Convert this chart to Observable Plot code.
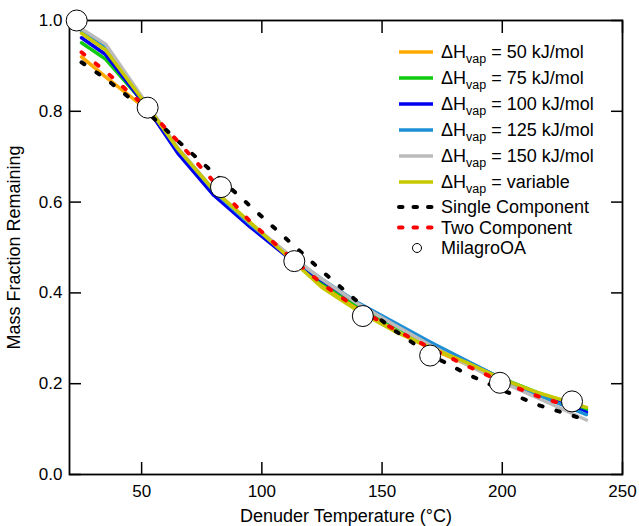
<!DOCTYPE html>
<html><head><meta charset="utf-8">
<script src="https://cdn.jsdelivr.net/npm/d3@7"></script>
<script src="https://cdn.jsdelivr.net/npm/@observablehq/plot@0.6"></script>
<style>body{margin:0;background:#fff}</style>
</head><body><div id="chart"></div>
<script>
const temps = [25, 35, 52, 65, 80, 95, 110, 125, 140, 155, 170, 185, 200, 215, 235];
const dh50  = [0.920, 0.876, 0.805, 0.718, 0.626, 0.555, 0.485, 0.420, 0.365, 0.318, 0.278, 0.243, 0.208, 0.178, 0.146];
const dh75  = [0.951, 0.915, 0.812, 0.714, 0.621, 0.550, 0.484, 0.424, 0.372, 0.327, 0.286, 0.248, 0.211, 0.180, 0.143];
const dh100 = [0.962, 0.925, 0.810, 0.708, 0.615, 0.546, 0.482, 0.427, 0.377, 0.333, 0.290, 0.250, 0.210, 0.177, 0.137];
const dh125 = [0.975, 0.940, 0.815, 0.717, 0.624, 0.552, 0.487, 0.430, 0.378, 0.335, 0.292, 0.251, 0.210, 0.175, 0.132];
const dh150 = [0.982, 0.948, 0.818, 0.720, 0.627, 0.555, 0.490, 0.430, 0.376, 0.330, 0.285, 0.243, 0.203, 0.168, 0.120];
const dhVar = [0.972, 0.935, 0.814, 0.718, 0.626, 0.556, 0.484, 0.412, 0.360, 0.316, 0.280, 0.247, 0.210, 0.180, 0.148];
const single = [0.908, 0.872, 0.800, 0.735, 0.664, 0.592, 0.520, 0.448, 0.380, 0.318, 0.264, 0.222, 0.186, 0.153, 0.120];
const twoComp = [0.930, 0.888, 0.808, 0.734, 0.645, 0.558, 0.487, 0.420, 0.365, 0.320, 0.279, 0.240, 0.204, 0.172, 0.138];
const obsTemp = [23, 52.5, 83, 113.5, 142, 170, 199, 229];
const obsFrac = [1.0, 0.808, 0.633, 0.470, 0.349, 0.262, 0.202, 0.161];
const xTicks = [50, 100, 150, 200, 250];
const yTicks = [0, 0.2, 0.4, 0.6, 0.8, 1.0];
const seriesNames = ["50 kJ/mol", "75 kJ/mol", "100 kJ/mol", "125 kJ/mol", "150 kJ/mol", "variable", "Single Component", "Two Component"];
const seriesColors = ["#FFAA00", "#10CC10", "#0000EE", "#1E8FD5", "#BBBBBB", "#C8C800", "#000000", "#FF0000"];
const seriesValues = [dh50, dh75, dh100, dh125, dh150, dhVar, single, twoComp];
const obsName = "MilagroOA";
const xLabel = "Denuder Temperature (°C)";
const yLabel = "Mass Fraction Remaining";

const series = seriesNames.map((name, i) => ({
  name, color: seriesColors[i], dashed: i >= 6,
  rows: temps.map((t, j) => ({t, v: seriesValues[i][j]}))
}));
const obs = obsTemp.map((t, i) => ({t, v: obsFrac[i]}));

const lineMarks = series.map(s => Plot.line(s.rows, s.dashed
  ? {x: "t", y: "v", stroke: s.color, strokeWidth: 4, strokeDasharray: "3.5,14.5", strokeLinecap: "round"}
  : {x: "t", y: "v", stroke: s.color, strokeWidth: 3.5}));

const plot = Plot.plot({
  width: 639, height: 526,
  marginLeft: 69, marginRight: 17, marginTop: 20, marginBottom: 52,
  x: {domain: [20, 250]},
  y: {domain: [0, 1.0]},
  style: {fontFamily: "'Liberation Sans', Arial, sans-serif", fontSize: "17px"},
  marks: [
    Plot.frame({stroke: "#000000", strokeWidth: 1.8}),
    Plot.axisX({anchor: "bottom", ticks: xTicks, tickSize: -12, strokeWidth: 1.5, stroke: "#000000", tickPadding: 22, tickFormat: d => String(d), label: xLabel, labelAnchor: "center", labelOffset: 47, labelArrow: "none"}),
    Plot.axisX({anchor: "top", ticks: xTicks, tickSize: -12, strokeWidth: 1.5, stroke: "#000000", tickFormat: () => "", label: null}),
    Plot.axisY({anchor: "left", ticks: yTicks, tickSize: -12, strokeWidth: 1.5, stroke: "#000000", tickPadding: 19, tickFormat: d => d.toFixed(1), label: yLabel, labelAnchor: "center", labelOffset: 62, labelArrow: "none"}),
    Plot.axisY({anchor: "right", ticks: yTicks, tickSize: -12, strokeWidth: 1.5, stroke: "#000000", tickFormat: () => "", label: null}),
    ...lineMarks,
    Plot.dot(obs, {x: "t", y: "v", r: 10.5, fill: "white", stroke: "black", strokeWidth: 1})
  ]
});
document.getElementById("chart").appendChild(plot);

const svg = d3.select(plot);
svg.selectAll('[aria-label="x-axis label"], [aria-label="y-axis label"]').attr("font-size", 18);

// legend
const lg = svg.append("g").attr("font-family", "'Liberation Sans', Arial, sans-serif").attr("font-size", 18).attr("text-anchor", "start");
const rowsY = [52, 78, 104, 130, 156, 182, 207, 227.5, 248];
series.forEach((s, i) => {
  const y = rowsY[i];
  lg.append("line").attr("x1", 399).attr("x2", 433).attr("y1", y).attr("y2", y)
    .attr("stroke", s.color).attr("stroke-width", s.dashed ? 4 : 3.5)
    .attr("stroke-dasharray", s.dashed ? "3.5,11" : null)
    .attr("stroke-linecap", s.dashed ? "round" : "butt");
  const t = lg.append("text").attr("x", 441).attr("y", y).attr("dy", "0.36em");
  if (i < 6) {
    t.append("tspan").text("ΔH");
    t.append("tspan").attr("font-size", 12.5).attr("dy", 5).text("vap");
    t.append("tspan").attr("dy", -5).text(" = " + s.name);
  } else {
    t.text(s.name);
  }
});
lg.append("circle").attr("cx", 417).attr("cy", rowsY[8]).attr("r", 4.5).attr("fill", "white").attr("stroke", "black");
lg.append("text").attr("x", 441).attr("y", rowsY[8]).attr("dy", "0.36em").text(obsName);
</script>
</body></html>
